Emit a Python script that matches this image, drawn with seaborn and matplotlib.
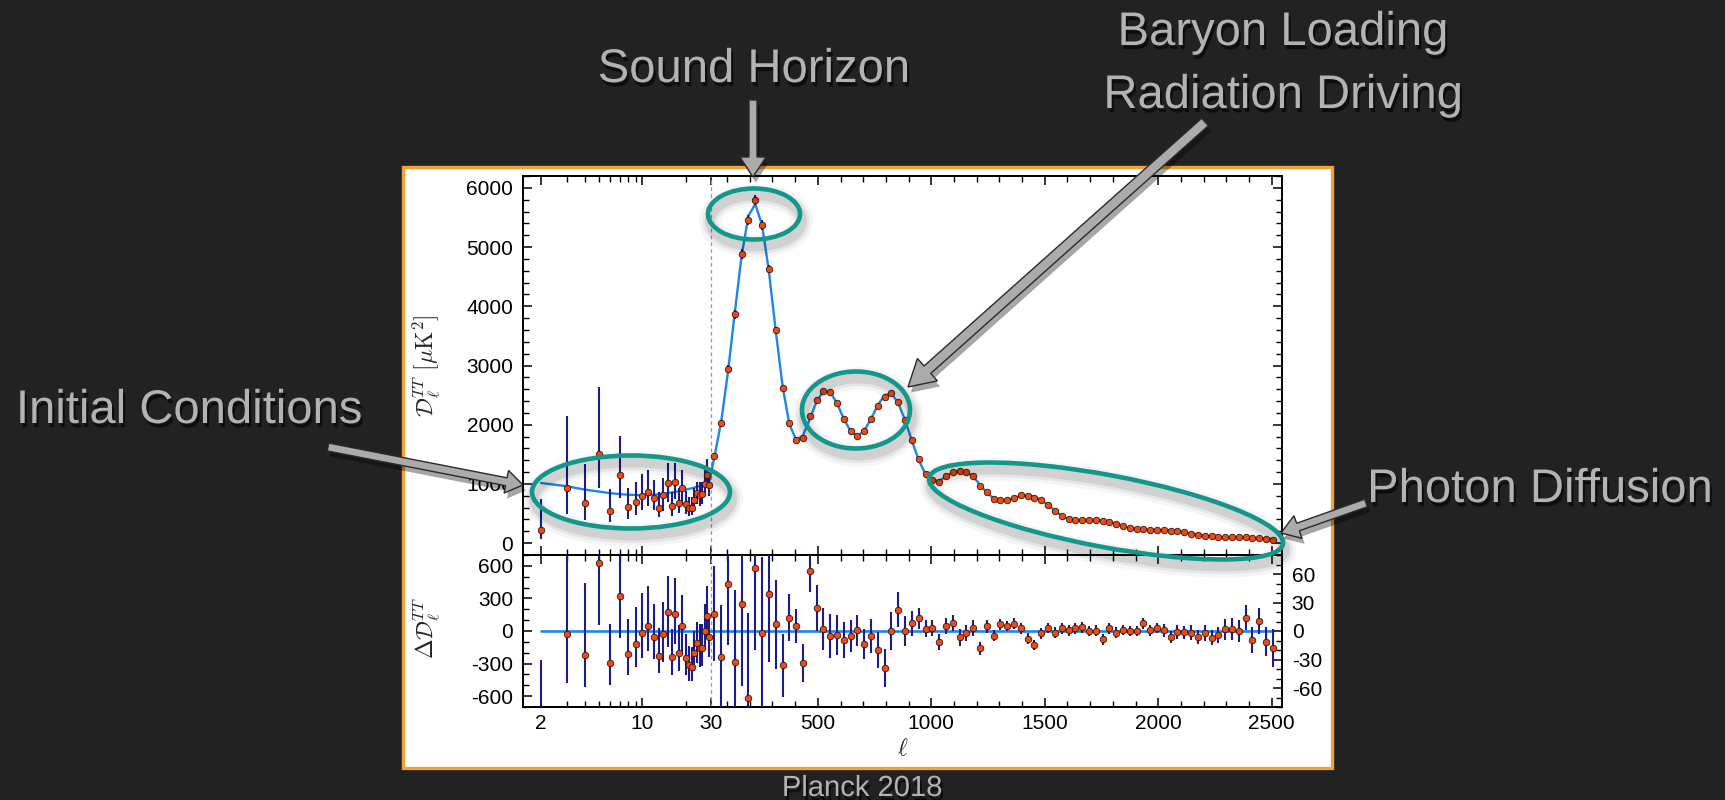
import numpy as np
import pandas as pd
import matplotlib
matplotlib.use("Agg")
import matplotlib.pyplot as plt
import matplotlib.patheffects as pe
from matplotlib.patches import Ellipse, Rectangle, FancyArrow
from matplotlib.ticker import FixedLocator, NullFormatter, MultipleLocator
import seaborn as sns

# ---------------- data ----------------
# low multipoles (unbinned), l = 2..29
ell_low = list(range(2, 30))
dl_low = [214, 931, 683, 1501, 547, 1146, 610, 694, 796, 858, 762, 593, 807, 1016,
          621, 1027, 677, 937, 655, 598, 598, 734, 847, 807, 824, 993, 1146, 976]
dl_low_err_minus = [141, 446, 296, 577, 195, 378, 195, 213, 230, 233, 199, 153, 260, 320,
                    170, 280, 165, 270, 160, 140, 130, 165, 190, 177, 165, 177, 208, 184]
dl_low_err_plus = [536, 1214, 660, 1140, 365, 666, 315, 342, 364, 370, 306, 264, 300, 340,
                   250, 330, 260, 290, 220, 180, 180, 202, 193, 220, 217, 251, 282, 183]
dl_low_model = [1016, 962, 905, 872, 845, 828, 818, 813, 811, 812, 818, 826, 836, 845,
                856, 867, 879, 891, 903, 915, 927, 940, 953, 966, 980, 993, 1010, 1028]

# high multipoles, bins of width 30
ell_hi = [44.5, 74.5, 104.5, 134.5, 164.5, 194.5, 224.5, 254.5, 284.5, 314.5,
          344.5, 374.5, 404.5, 434.5, 464.5, 494.5, 524.5, 554.5, 584.5, 614.5,
          644.5, 674.5, 704.5, 734.5, 764.5, 794.5, 824.5, 854.5, 884.5, 914.5,
          944.5, 974.5, 1004.5, 1034.5, 1064.5, 1094.5, 1124.5, 1154.5, 1184.5, 1214.5,
          1244.5, 1274.5, 1304.5, 1334.5, 1364.5, 1394.5, 1424.5, 1454.5, 1484.5, 1514.5,
          1544.5, 1574.5, 1604.5, 1634.5, 1664.5, 1694.5, 1724.5, 1754.5, 1784.5, 1814.5,
          1844.5, 1874.5, 1904.5, 1934.5, 1964.5, 1994.5, 2024.5, 2054.5, 2084.5, 2114.5,
          2144.5, 2174.5, 2204.5, 2234.5, 2264.5, 2294.5, 2324.5, 2354.5, 2384.5, 2414.5,
          2444.5, 2474.5, 2504.5]
dl_hi = [1473, 2029, 2946, 3867, 4885, 5458, 5790, 5370, 4628, 3601,
         2624, 2026, 1750, 1784, 2155, 2416, 2568, 2546, 2360, 2089,
         1886, 1806, 1886, 2094, 2314, 2461, 2529, 2387, 2077, 1736,
         1417, 1165, 1065, 1040, 1129, 1205, 1226, 1199, 1129, 965,
         858, 751, 723, 734, 762, 808, 802, 768, 723, 650,
         548, 463, 406, 384, 384, 384, 384, 373, 356, 328,
         288, 254, 243, 232, 226, 226, 215, 209, 198, 186,
         158, 136, 124, 113, 102, 96, 96, 96, 102, 79,
         91, 68, 57]
resid_hi = [18, -27, 50, -33, 28, -71, 66, -2, 39, 7,
            -36, 14, 5, -34, 63, 24, 2.5, -5.6, -4, -9,
            -5.6, 0.7, -13.5, -5, -19.8, -39.3, -0.5, 22.6, 0, 8,
            13.5, 2.6, 3.5, -11.6, 5.6, 8, -6.6, -2.5, 3.1, -18.2,
            4.9, -5, 7, 5.5, 7.7, 2.8, -8, -15, -2.5, 3.2,
            -1.7, 2.8, 0.7, 2.8, 3.9, 0, 0.4, -8.8, 2.8, -1.7,
            1, 0, 0, 8, 0.7, 3.2, 0.7, -6.3, -1, -1.4,
            -1.7, -6.3, -2, -7, -4.2, 1.7, 2.5, 0, 14, -9.5,
            10.5, -11.2, -17.5]
err_hi = [50, 54, 65, 76, 86, 90, 86, 80, 72, 47,
          33, 25, 18, 20, 22, 24, 22, 23, 21, 19,
          17, 16, 16, 18, 19, 20, 20, 18, 16, 13,
          11, 9, 8.5, 8, 8.4, 8.4, 9, 8.4, 8, 7,
          6.5, 6, 5.5, 5.5, 5.5, 5.5, 5.5, 5.5, 5.5, 5.5,
          5.5, 5.5, 5.5, 5.5, 5.5, 5.5, 5.5, 5.5, 5.5, 5.5,
          5.5, 5.5, 5.5, 5.5, 5.5, 5.5, 6.5, 6.5, 7, 7,
          7.5, 7.5, 8, 8, 8, 11, 11.5, 11.5, 13, 14,
          14, 15, 20]

x_major = [2, 10, 30, 500, 1000, 1500, 2000, 2500]
x_minor = [3, 4, 5, 6, 7, 8, 9, 20] + [v for v in range(100, 2600, 100) if v % 500]

# ---------------- derived tables ----------------
low = pd.DataFrame({"ell": ell_low, "dl": dl_low, "lo": dl_low_err_minus,
                    "hi": dl_low_err_plus, "model": dl_low_model})
low["resid"] = low["dl"] - low["model"]
high = pd.DataFrame({"ell": ell_hi, "dl": dl_hi, "resid": resid_hi, "err": err_hi})
high["model"] = high["dl"] - high["resid"]
model = pd.concat([low[["ell", "model"]], high[["ell", "model"]]], ignore_index=True)
zero = pd.DataFrame({"ell": [ell_low[0], ell_hi[-1]], "v": [0, 0]})

# ---------------- style ----------------
sns.set_theme(style="ticks")
plt.rcParams["font.family"] = ["Liberation Sans", "DejaVu Sans"]
plt.rcParams["mathtext.fontset"] = "cm"
plt.rcParams["axes.unicode_minus"] = False

BG = "#222222"
LINE = "#1e86e8"
BAR = "#1c1c8c"
DOT = "#ee4a14"
DOT_EDGE = "#3a1508"
TEAL = "#12978a"
ANN = "#b3b3b3"

W, H = 1725, 800
fig = plt.figure(figsize=(W / 100, H / 100), dpi=100, facecolor=BG)


def frac(x0, y0, x1, y1):
    return [x0 / W, 1 - y1 / H, (x1 - x0) / W, (y1 - y0) / H]


# white plot card
bg = fig.add_axes([0, 0, 1, 1], zorder=-2)
bg.set_xlim(0, W)
bg.set_ylim(H, 0)
bg.axis("off")
bg.add_patch(Rectangle((403, 167), 929, 601, fc="white", ec="#f3a13b", lw=2.4))

ax = fig.add_axes(frac(523, 176, 1282, 555))
ax2 = fig.add_axes(frac(523, 555, 1282, 707), sharex=ax)
ax2r = ax2.twinx()

# log below l=30, linear above
K_DEC = 637.0


def fwd(l):
    l = np.asarray(l, dtype=float)
    return np.where(l >= 30, l, 30 + K_DEC * np.log10(np.clip(l, 1e-6, None) / 30))


def inv(u):
    u = np.asarray(u, dtype=float)
    return np.where(u >= 30, u, 30 * 10 ** ((np.minimum(u, 30) - 30) / K_DEC))


ax.set_xscale("function", functions=(fwd, inv))
ax.set_xlim(1.5, 2545)

# ---------------- top panel ----------------
sns.lineplot(data=model, x="ell", y="model", ax=ax, color=LINE, lw=1.7,
             sort=False, estimator=None, zorder=2)
ax.errorbar(low["ell"], low["dl"], yerr=[low["lo"], low["hi"]], fmt="none",
            ecolor=BAR, elinewidth=1.5, capsize=0, zorder=3)
ax.errorbar(high["ell"], high["dl"], yerr=high["err"], fmt="none",
            ecolor=BAR, elinewidth=1.5, capsize=0, zorder=3)
sns.scatterplot(x=low["ell"], y=low["dl"], ax=ax, s=22, color=DOT,
                edgecolor=DOT_EDGE, linewidth=0.6, zorder=4)
sns.scatterplot(x=high["ell"], y=high["dl"], ax=ax, s=22, color=DOT,
                edgecolor=DOT_EDGE, linewidth=0.6, zorder=4)
ax.axvline(30, color="#9a9a9a", ls=(0, (3, 2.5)), lw=0.9, zorder=1)
ax.set_ylim(-200, 6200)
ax.yaxis.set_major_locator(FixedLocator([0, 1000, 2000, 3000, 4000, 5000, 6000]))
ax.yaxis.set_minor_locator(MultipleLocator(200))
ax.set_xlabel("")
ax.set_ylabel(r"$\mathcal{D}_{\ell}^{TT}\ [\mu\mathrm{K}^2]$", fontsize=17)
ax.yaxis.set_label_coords(-0.107, 0.5)

# ---------------- residual panel ----------------
sns.lineplot(data=zero, x="ell", y="v", ax=ax2, color=LINE, lw=1.9,
             sort=False, estimator=None, zorder=2)
ax2.errorbar(low["ell"], low["resid"], yerr=[low["lo"], low["hi"]], fmt="none",
             ecolor=BAR, elinewidth=1.5, capsize=0, zorder=3)
sns.scatterplot(x=low["ell"], y=low["resid"], ax=ax2, s=22, color=DOT,
                edgecolor=DOT_EDGE, linewidth=0.6, zorder=4)
ax2.axvline(30, color="#9a9a9a", ls=(0, (3, 2.5)), lw=0.9, zorder=1)
ax2.set_ylim(-700, 700)
ax2.yaxis.set_major_locator(FixedLocator([-600, -300, 0, 300, 600]))
ax2.yaxis.set_minor_locator(MultipleLocator(100))
ax2.set_ylabel(r"$\Delta\mathcal{D}_{\ell}^{TT}$", fontsize=17)
ax2.yaxis.set_label_coords(-0.105, 0.52)
ax2.set_xlabel(r"$\ell$", fontsize=17)
ax2.xaxis.set_label_coords(0.5, -0.205)

ax2r.errorbar(high["ell"], high["resid"], yerr=high["err"], fmt="none",
              ecolor=BAR, elinewidth=1.5, capsize=0, zorder=3)
sns.scatterplot(x=high["ell"], y=high["resid"], ax=ax2r, s=22, color=DOT,
                edgecolor=DOT_EDGE, linewidth=0.6, zorder=4)
ax2r.set_ylim(-80, 80)
ax2r.yaxis.set_major_locator(FixedLocator([-60, -30, 0, 30, 60]))
ax2r.yaxis.set_minor_locator(MultipleLocator(10))
ax2r.set_ylabel("")
ax2r.set_xlabel("")

for a in (ax, ax2):
    a.xaxis.set_major_locator(FixedLocator(x_major))
    a.xaxis.set_minor_locator(FixedLocator(x_minor))
    a.xaxis.set_minor_formatter(NullFormatter())
    a.set_facecolor("white")
ax2.set_xticklabels([str(v) for v in x_major])
ax.set_xlim(1.5, 2545)

for a in (ax, ax2, ax2r):
    for s in a.spines.values():
        s.set_linewidth(1.4)
        s.set_color("black")

ax.tick_params(axis="both", which="both", direction="in", top=True, bottom=True,
               left=True, right=True, labelbottom=False, labelsize=15, pad=7,
               color="black", labelcolor="black")
ax2.tick_params(axis="x", which="both", direction="in", top=True, bottom=True,
                labelsize=15, pad=5, color="black", labelcolor="black")
ax2.tick_params(axis="y", which="both", direction="in", left=True, right=False,
                labelsize=15, pad=7, color="black", labelcolor="black")
ax2r.tick_params(axis="y", which="both", direction="in", left=False, right=True,
                 labelsize=15, pad=7, color="black", labelcolor="black")
for a in (ax, ax2, ax2r):
    a.tick_params(which="major", length=6.5, width=1.1)
    a.tick_params(which="minor", length=4.3, width=1.0)

# ---------------- callouts ----------------
ann = fig.add_axes([0, 0, 1, 1], zorder=10)
ann.set_xlim(0, W)
ann.set_ylim(H, 0)
ann.axis("off")
ann.patch.set_alpha(0)

rings = [(631, 492, 198, 73, 0), (754, 214, 92, 51, 0),
         (856, 410, 108, 77, 0), (1106, 511, 360, 72, 10.6)]
for cx, cy, w, h, ang in rings:
    for lw, al in ((16, 0.04), (11, 0.06), (7, 0.09)):
        ann.add_patch(Ellipse((cx + 2, cy + 7), w, h, angle=ang, fill=False,
                              ec="black", lw=lw, alpha=al))
    ann.add_patch(Ellipse((cx, cy), w, h, angle=ang, fill=False, ec=TEAL, lw=3.3))

arrows = [((753, 100), (753, 177), 8, 26, 20),
          ((1205, 122), (908, 387), 10, 30, 26),
          ((328, 447), (523, 485), 8, 23, 17),
          ((1366, 503), (1281, 533), 8, 24, 18)]
for (x0, y0), (x1, y1), sw, hw, hl in arrows:
    ann.add_patch(FancyArrow(x0, y0, x1 - x0, y1 - y0, width=sw, head_width=hw,
                             head_length=hl, length_includes_head=True,
                             fc="#ababab", ec="#2a2a2a", lw=1.0,
                             path_effects=[pe.withSimplePatchShadow(
                                 offset=(2, -4), shadow_rgbFace="black", alpha=0.35)]))

shadow = [pe.withSimplePatchShadow(offset=(1.5, -3), shadow_rgbFace="black", alpha=0.6)]
labels = [("Sound Horizon", 754, 82, 34), ("Baryon Loading", 1283, 45, 34),
          ("Radiation Driving", 1283, 108, 34), ("Initial Conditions", 189, 423, 34),
          ("Photon Diffusion", 1540, 502, 34), ("Planck 2018", 862, 796, 21)]
for txt, x, y, fs in labels:
    ann.text(x, y, txt, color=ANN, fontsize=fs, ha="center", va="baseline",
             path_effects=shadow)

fig.savefig("out.png", dpi=100, facecolor=fig.get_facecolor())
